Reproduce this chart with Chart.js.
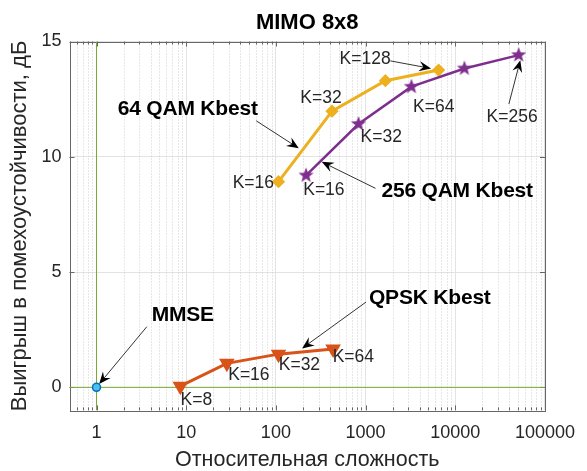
<!DOCTYPE html>
<html>
<head>
<meta charset="utf-8">
<script src="https://cdn.jsdelivr.net/npm/chart.js@4.4.1/dist/chart.umd.min.js"></script>
<style>
  html, body { margin: 0; padding: 0; background: #fff; }
</style>
</head>
<body>
<canvas id="chart" width="587" height="471"></canvas>
<script>
// axis limits and ticks
const xRange = [0.5, 100000];
const yRange = [-1, 15];
const xTicks = [1, 10, 100, 1000, 10000, 100000];
const yTicks = [0, 5, 10, 15];

// relative complexity (x) and gain in dB (y) per detector
const mmseX = [1];
const mmseY = [0];
const qpskX = [8.6, 28.4, 107, 434];
const qpskY = [0.05, 1.04, 1.44, 1.66];
const qam64X = [107, 423, 1663, 6520];
const qam64Y = [8.92, 11.98, 13.30, 13.76];
const qam256X = [217, 834, 3245, 12650, 50900];
const qam256Y = [9.19, 11.42, 13.04, 13.83, 14.41];

// K= labels next to the points
const kText = ['K=8', 'K=16', 'K=32', 'K=64', 'K=16', 'K=32', 'K=128', 'K=16', 'K=32', 'K=64', 'K=256'];
const kX = [13.0, 50.0, 183, 730, 56.1, 318, 988, 343, 1496, 5750, 43000];
const kY = [-0.55, 0.53, 0.97, 1.33, 8.86, 12.53, 14.22, 8.56, 10.87, 12.17, 11.71];

// bold series names
const nameText = ['MMSE', 'QPSK Kbest', '64 QAM Kbest', '256 QAM Kbest'];
const nameX = [9.16, 5200, 10.4, 10500];
const nameY = [3.14, 3.87, 12.06, 8.51];

// arrows: tail -> head
const arrowFromX = [3.64, 1012, 60.4, 1292, 1885, 39600];
const arrowFromY = [2.63, 3.70, 11.56, 8.63, 14.16, 12.29];
const arrowToX = [1.07, 196, 180, 324, 5370, 53100];
const arrowToY = [0.143, 1.69, 10.37, 9.78, 13.83, 14.19];

const FONT = '"Liberation Sans", Arial, sans-serif';
const green = '#77AC30';

function pts(xs, ys) {
  return xs.map((x, i) => ({ x: x, y: ys[i] }));
}

// filled five-point star marker
function makeStar(color, r) {
  const c = document.createElement('canvas');
  const s = Math.ceil(r * 2 + 2);
  c.width = s; c.height = s;
  const g = c.getContext('2d');
  g.translate(s / 2, s / 2);
  g.beginPath();
  for (let i = 0; i < 10; i++) {
    const rr = i % 2 ? r * 0.42 : r;
    const a = -Math.PI / 2 + i * Math.PI / 5;
    g.lineTo(rr * Math.cos(a), rr * Math.sin(a));
  }
  g.closePath();
  g.fillStyle = color;
  g.fill();
  return c;
}

const frame = {
  id: 'frame',
  beforeDatasetsDraw(chart) {
    const { ctx, chartArea: a, scales: { x, y } } = chart;
    ctx.save();
    // dotted minor grid on the log axis
    ctx.strokeStyle = '#cfcfcf';
    ctx.lineWidth = 1;
    ctx.setLineDash([1, 2]);
    const minors = [];
    for (let d = 0.1; d < xRange[1]; d *= 10) {
      for (let k = 2; k <= 9; k++) {
        const v = d * k;
        if (v >= xRange[0] && v <= xRange[1]) minors.push(v);
      }
    }
    minors.forEach(v => {
      const px = Math.round(x.getPixelForValue(v)) + 0.5;
      ctx.beginPath();
      ctx.moveTo(px, a.top);
      ctx.lineTo(px, a.bottom);
      ctx.stroke();
    });
    ctx.setLineDash([]);
    // box and inner ticks
    ctx.strokeStyle = '#666';
    ctx.strokeRect(Math.round(a.left) + 0.5, Math.round(a.top) + 0.5,
      Math.round(a.right - a.left), Math.round(a.bottom - a.top));
    ctx.beginPath();
    xTicks.forEach(v => {
      const px = Math.round(x.getPixelForValue(v)) + 0.5;
      ctx.moveTo(px, a.bottom); ctx.lineTo(px, a.bottom - 5);
      ctx.moveTo(px, a.top); ctx.lineTo(px, a.top + 5);
    });
    minors.forEach(v => {
      const px = Math.round(x.getPixelForValue(v)) + 0.5;
      ctx.moveTo(px, a.bottom); ctx.lineTo(px, a.bottom - 3);
      ctx.moveTo(px, a.top); ctx.lineTo(px, a.top + 3);
    });
    yTicks.forEach(v => {
      const py = Math.round(y.getPixelForValue(v)) + 0.5;
      ctx.moveTo(a.left, py); ctx.lineTo(a.left + 5, py);
      ctx.moveTo(a.right, py); ctx.lineTo(a.right - 5, py);
    });
    ctx.stroke();
    ctx.restore();
  }
};

function arrow(ctx, x0, y0, x1, y1) {
  const ang = Math.atan2(y1 - y0, x1 - x0);
  const L = 12, W = 5;
  ctx.strokeStyle = '#333';
  ctx.lineWidth = 1;
  ctx.beginPath();
  ctx.moveTo(x0, y0);
  ctx.lineTo(x1 - Math.cos(ang) * L * 0.6, y1 - Math.sin(ang) * L * 0.6);
  ctx.stroke();
  ctx.save();
  ctx.translate(x1, y1);
  ctx.rotate(ang);
  ctx.fillStyle = '#000';
  ctx.beginPath();
  ctx.moveTo(0, 0);
  ctx.lineTo(-L, -W);
  ctx.lineTo(-L * 0.65, 0);
  ctx.lineTo(-L, W);
  ctx.closePath();
  ctx.fill();
  ctx.restore();
}

const notes = {
  id: 'notes',
  afterDatasetsDraw(chart) {
    const { ctx, scales: { x, y } } = chart;
    ctx.save();
    arrowFromX.forEach((v, i) => {
      arrow(ctx, x.getPixelForValue(v), y.getPixelForValue(arrowFromY[i]),
        x.getPixelForValue(arrowToX[i]), y.getPixelForValue(arrowToY[i]));
    });
    ctx.textAlign = 'center';
    ctx.textBaseline = 'middle';
    ctx.fillStyle = '#262626';
    ctx.font = '17.5px ' + FONT;
    kText.forEach((t, i) => {
      ctx.fillText(t, x.getPixelForValue(kX[i]), y.getPixelForValue(kY[i]));
    });
    ctx.fillStyle = '#000';
    ctx.font = 'bold 21px ' + FONT;
    ctx.letterSpacing = '-0.2px';
    nameText.forEach((t, i) => {
      ctx.fillText(t, x.getPixelForValue(nameX[i]), y.getPixelForValue(nameY[i]));
    });
    ctx.restore();
  }
};

new Chart(document.getElementById('chart'), {
  type: 'line',
  data: {
    datasets: [
      {
        data: [{ x: 1, y: yRange[0] }, { x: 1, y: yRange[1] }],
        borderColor: green, borderWidth: 1, pointRadius: 0, order: 10
      },
      {
        data: [{ x: xRange[0], y: 0 }, { x: xRange[1], y: 0 }],
        borderColor: green, borderWidth: 1, pointRadius: 0, order: 10
      },
      {
        label: 'QPSK Kbest',
        data: pts(qpskX, qpskY),
        borderColor: '#D95319', backgroundColor: '#D95319', borderWidth: 3,
        pointStyle: 'triangle', rotation: 180, pointRadius: 6, order: 3
      },
      {
        label: '64 QAM Kbest',
        data: pts(qam64X, qam64Y),
        borderColor: '#EDB120', backgroundColor: '#EDB120', borderWidth: 3,
        pointStyle: 'rectRot', pointRadius: 4.5, order: 2
      },
      {
        label: '256 QAM Kbest',
        data: pts(qam256X, qam256Y),
        borderColor: '#7E2F8E', backgroundColor: '#7E2F8E', borderWidth: 2.5,
        pointStyle: makeStar('#7E2F8E', 8), pointRadius: 7, order: 1
      },
      {
        label: 'MMSE',
        data: pts(mmseX, mmseY),
        borderColor: '#0072BD', backgroundColor: '#4DBEEE', borderWidth: 1.5,
        pointStyle: 'circle', pointRadius: 4, showLine: false, order: 0
      }
    ]
  },
  options: {
    responsive: false,
    animation: false,
    layout: { padding: { left: 0, right: 33.5, top: 0, bottom: 0 } },
    plugins: {
      legend: { display: false },
      tooltip: { enabled: false },
      title: {
        display: true,
        fullSize: false,
        text: 'MIMO 8x8',
        color: '#000',
        font: { family: FONT, size: 22, weight: 'bold', lineHeight: 1 },
        padding: { top: 12, bottom: 7.5 }
      }
    },
    scales: {
      x: {
        type: 'logarithmic',
        min: xRange[0],
        max: xRange[1],
        afterBuildTicks: s => { s.ticks = xTicks.map(v => ({ value: v })); },
        afterFit: s => { s.height = 60.6; },
        ticks: {
          callback: v => String(v),
          autoSkip: false, maxRotation: 0,
          color: '#262626', padding: 12,
          font: { family: FONT, size: 18 }
        },
        grid: { color: '#e3e3e3', drawTicks: false },
        border: { display: false },
        title: {
          display: true,
          text: 'Относительная сложность',
          color: '#262626',
          font: { family: FONT, size: 21.5, lineHeight: 1 },
          padding: { top: 0, bottom: 0 }
        }
      },
      y: {
        type: 'linear',
        min: yRange[0],
        max: yRange[1],
        afterBuildTicks: s => { s.ticks = yTicks.map(v => ({ value: v })); },
        afterFit: s => { s.width = 69.5; },
        ticks: {
          color: '#262626', padding: 8,
          font: { family: FONT, size: 18 }
        },
        grid: { color: '#e3e3e3', drawTicks: false },
        border: { display: false },
        title: {
          display: true,
          text: 'Выигрыш в помехоустойчивости, дБ',
          color: '#262626',
          font: { family: FONT, size: 22, lineHeight: 1 },
          padding: { top: 9, bottom: 0 }
        }
      }
    }
  },
  plugins: [frame, notes]
});
</script>
</body>
</html>
